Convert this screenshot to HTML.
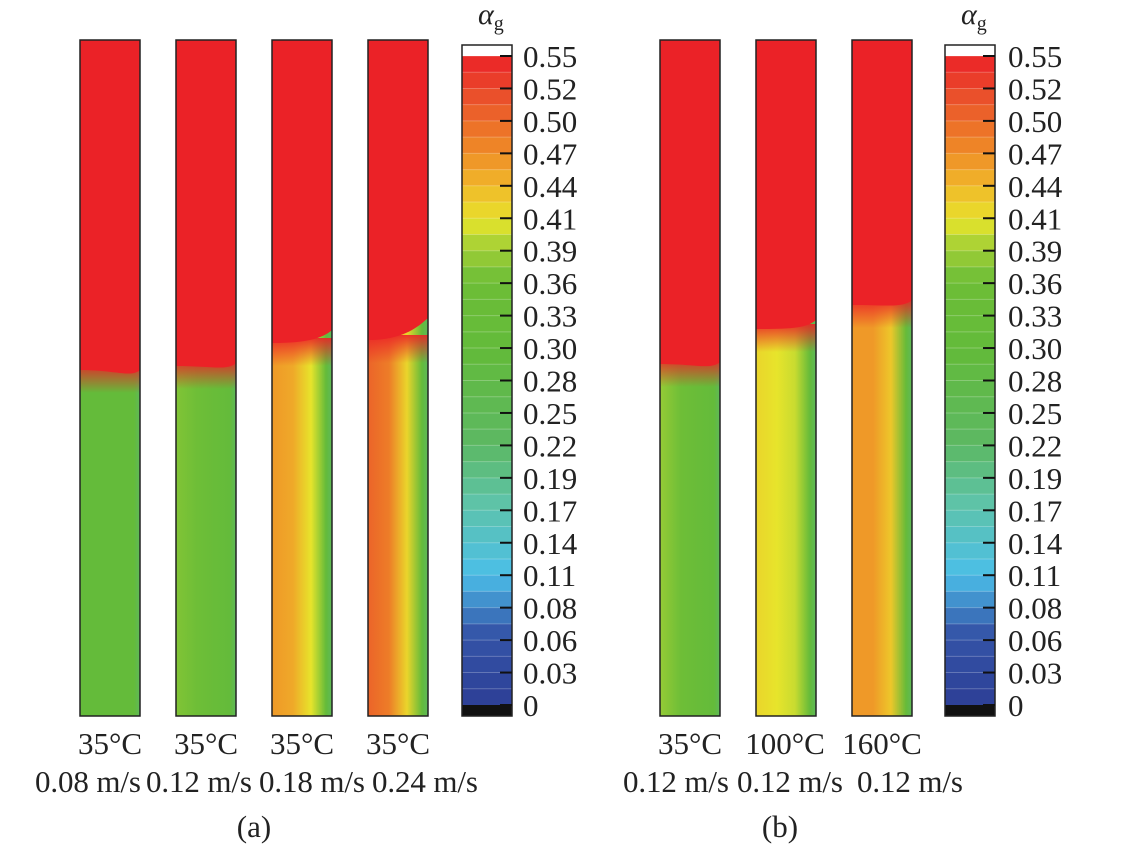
<!DOCTYPE html>
<html><head><meta charset="utf-8"><style>
body{margin:0;background:#fff}
svg text{font-family:"Liberation Serif",serif;fill:#222}
</style></head><body>
<svg id="fig" width="1137" height="844" viewBox="0 0 1137 844" xmlns="http://www.w3.org/2000/svg">
<defs id="defs">
<linearGradient id="fade" x1="0" x2="0" y1="0" y2="1"><stop offset="0" stop-color="rgb(235,34,39)" stop-opacity="0.9"/><stop offset="1" stop-color="rgb(235,34,39)" stop-opacity="0"/></linearGradient>
</defs>
<g id="cols"></g><g id="bars"></g><g id="labels"></g>
</svg>
<script>
const tickLabels=["0.55","0.52","0.50","0.47","0.44","0.41","0.39","0.36","0.33","0.30","0.28","0.25","0.22","0.19","0.17","0.14","0.11","0.08","0.06","0.03","0"];
const colX=[80,176,272,368,660,756,852];
const interfaceLeft=[370,366,343,340,364,329,305];
const interfaceRight=[370,363,330,318,362,320,300];
const alphaA=[0.31,0.37,0.46,0.50,0.38,0.42,0.46];
const alphaB=[0.31,0.36,0.45,0.48,0.36,0.41,0.46];
const alphaC=[0.31,0.33,0.41,0.42,0.33,0.40,0.43];
const alphaD=[0.31,0.31,0.31,0.31,0.31,0.31,0.32];
const line1=["35°C","35°C","35°C","35°C","35°C","100°C","160°C"];
const line1X=[110,206,302,398,690,785,882];
const line2=["0.08 m/s","0.12 m/s","0.18 m/s","0.24 m/s","0.12 m/s","0.12 m/s","0.12 m/s"];
const line2X=[88,199,312,425,676,790,910];
const ns="http://www.w3.org/2000/svg";
const stops=[[0,[45,63,150]],[0.06,[52,84,168]],[0.11,[75,190,232]],[0.17,[94,195,170]],[0.22,[92,184,100]],[0.30,[98,186,58]],[0.36,[110,190,55]],[0.39,[168,209,53]],[0.41,[231,228,43]],[0.44,[240,184,42]],[0.47,[238,138,39]],[0.52,[234,74,43]],[0.55,[235,34,39]]];
function cmap(a){for(let i=1;i<stops.length;i++){if(a<=stops[i][0]){const [a0,c0]=stops[i-1],[a1,c1]=stops[i];const t=(a-a0)/(a1-a0);return 'rgb('+c0.map((v,k)=>Math.round(v+(c1[k]-v)*t)).join(',')+')';}}return 'rgb(235,34,39)';}
function mk(t,attrs,parent){const e=document.createElementNS(ns,t);for(const k in attrs)e.setAttribute(k,attrs[k]);parent.appendChild(e);return e;}
const defs=document.getElementById('defs'),cols=document.getElementById('cols'),bars=document.getElementById('bars'),labels=document.getElementById('labels');
const yTop=40,yBot=716,w=60,fs=31;
colX.forEach((x,i)=>{
  const g=mk('linearGradient',{id:'g'+i,x1:0,x2:1,y1:0,y2:0},defs);
  [[0,alphaA[i]],[0.35,alphaB[i]],[0.65,alphaC[i]],[0.9,alphaD[i]],[1,0.24]].forEach(s=>mk('stop',{offset:s[0],'stop-color':cmap(s[1])},g));
  const col=mk('g',{},cols);
  
  
  mk('rect',{x:x,y:yTop,width:w,height:yBot-yTop,fill:'url(#g'+i+')'},col);
  const yl=interfaceLeft[i],yr=interfaceRight[i];
  mk('rect',{x:x,y:yl-5,width:w,height:28,fill:'url(#fade)'},col);
  mk('path',{d:`M${x},${yTop} H${x+w} V${yr} C${x+w*0.85},${yr+8} ${x+w*0.6},${yl} ${x},${yl} Z`,fill:'rgb(235,34,39)'},col);
  mk('rect',{x:x,y:yTop,width:w,height:yBot-yTop,fill:'none',stroke:'#222','stroke-width':1.5},col);
  const t1=mk('text',{x:line1X[i],y:754,'font-size':fs,'text-anchor':'middle'},labels);t1.textContent=line1[i];
  
  
  const t2=mk('text',{x:line2X[i],y:792,'font-size':fs,'text-anchor':'middle',textLength:106,lengthAdjust:'spacing'},labels);t2.textContent=line2[i];
  
  
});
[[462,523,478],[945,1008,961]].forEach((b,bi)=>{
  const [bx,lx,ax]=b;const g=mk('g',{},bars);
  
  
  const y0=56,y1=705,n=tickLabels.length-1,step=(y1-y0)/n;
  mk('rect',{x:bx,y:45,width:50,height:11,fill:'#fff'},g);
  for(let k=0;k<n*2;k++){const a=0.55*(1-(k+0.5)/(n*2));mk('rect',{x:bx,y:y0+k*step/2,width:50,height:step/2+0.5,fill:cmap(a)},g);
    mk('line',{x1:bx,x2:bx+50,y1:y0+k*step/2,y2:y0+k*step/2,stroke:'rgba(255,255,255,0.25)','stroke-width':1},g);}
  mk('rect',{x:bx,y:705,width:50,height:11,fill:'#111'},g);
  mk('rect',{x:bx,y:45,width:50,height:671,fill:'none',stroke:'#222','stroke-width':1.5},g);
  tickLabels.forEach((l,k)=>{const y=y0+k*step;mk('line',{x1:bx+38,x2:bx+50,y1:y,y2:y,stroke:'#111','stroke-width':2},g);
    const t=mk('text',{x:lx,y:y+11,'font-size':fs},g);t.textContent=l;});
  const at=mk('text',{x:ax,y:24,'font-size':30,'font-style':'italic'},g);at.innerHTML='α<tspan font-size="20" font-style="normal" dy="6">g</tspan>';
});
const pa=mk('text',{x:254,y:837,'font-size':fs,'text-anchor':'middle'},labels);pa.textContent='(a)';


const pb=mk('text',{x:780,y:837,'font-size':fs,'text-anchor':'middle'},labels);pb.textContent='(b)';


</script>
</body></html>
